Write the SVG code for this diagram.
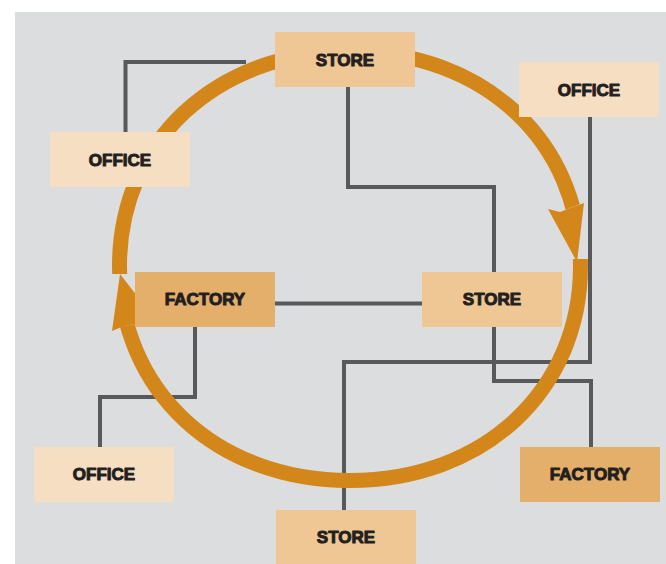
<svg xmlns="http://www.w3.org/2000/svg" width="666" height="564" viewBox="0 0 666 564">
<style>
.bg{fill:#DCDDDF}
.conn{fill:none;stroke:#58595B;stroke-width:4;stroke-linejoin:miter}
.ring{fill:none;stroke:#D3871A;stroke-width:15}
.head{fill:#D3871A}
.store{fill:#EEC794}
.office{fill:#F5DEC2}
.factory{fill:#E4AF6A}
.lbl{font-family:"Liberation Sans",Arial,sans-serif;font-weight:bold;font-size:17px;fill:#231F20;stroke:#231F20;stroke-width:1;stroke-linejoin:round;text-anchor:middle}
</style>
<defs>
<mask id="gaps" maskUnits="userSpaceOnUse" x="0" y="0" width="666" height="564">
<rect x="0" y="0" width="666" height="564" fill="#fff"/>
<polygon points="535,221.6 600,196.6 600,259 535,259" fill="#000"/>
<polygon points="100,274 165,274 165,319 100,330" fill="#000"/>
</mask>
</defs>
<rect class="bg" x="15" y="12" width="651" height="552"/>
<g id="connectors">
<path class="conn" d="M246 62 H125.5 V132"/>
<path class="conn" d="M348 87 V187 H494 V272"/>
<path class="conn" d="M275 303.5 H422"/>
<path class="conn" d="M195 327 V397 H100 V447"/>
<path class="conn" d="M590 117 V362 H344 V510"/>
<path class="conn" d="M494 327 V381 H591 V447"/>
</g>
<g id="cycle">
<path class="ring" mask="url(#gaps)" d="M119.5 266 C119.5 141.6 216.3 51.5 350 51.5 C483.7 51.5 580.5 141.6 580.5 266 C580.5 390.4 483.7 480.5 350 480.5 C216.3 480.5 119.5 390.4 119.5 266 Z"/>
<polygon class="head" points="548,209 577,262 584,203 573,207 560,212"/>
<polygon class="head" points="120,274 155,319 139,323.5 124,326 112,331"/>
</g>
<g id="store-top"><rect class="store" x="275" y="32" width="140" height="55"/><text class="lbl" x="345" y="65.5">STORE</text></g>
<g id="office-right"><rect class="office" x="519" y="62" width="140" height="55"/><text class="lbl" x="589" y="95.5">OFFICE</text></g>
<g id="office-left"><rect class="office" x="50" y="132" width="140" height="55"/><text class="lbl" x="120" y="165.5">OFFICE</text></g>
<g id="factory-mid"><rect class="factory" x="135" y="272" width="140" height="55"/><text class="lbl" x="205" y="305">FACTORY</text></g>
<g id="store-mid"><rect class="store" x="422" y="272" width="140" height="55"/><text class="lbl" x="492" y="305">STORE</text></g>
<g id="office-bottom"><rect class="office" x="34" y="447" width="140" height="55"/><text class="lbl" x="104" y="480">OFFICE</text></g>
<g id="factory-bottom"><rect class="factory" x="520" y="447" width="140" height="55"/><text class="lbl" x="590" y="480">FACTORY</text></g>
<g id="store-bottom"><rect class="store" x="276" y="510" width="140" height="55"/><text class="lbl" x="346" y="542.5">STORE</text></g>
</svg>
